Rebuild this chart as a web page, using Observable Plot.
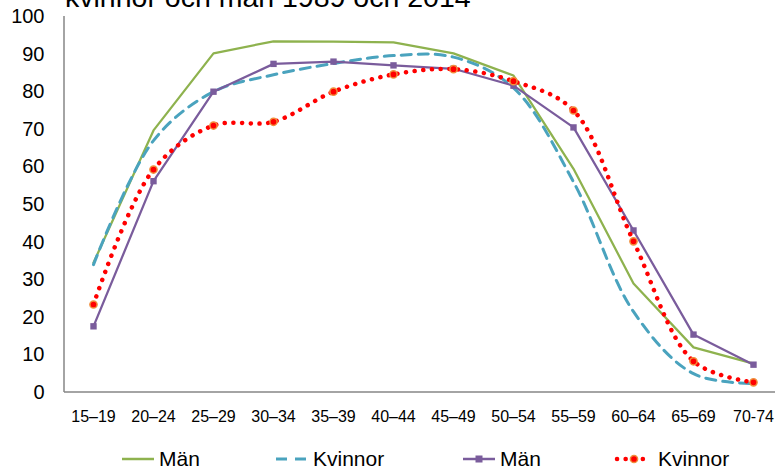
<!DOCTYPE html>
<html>
<head>
<meta charset="utf-8">
<script src="https://cdn.jsdelivr.net/npm/d3@7"></script>
<script src="https://cdn.jsdelivr.net/npm/@observablehq/plot@0.6"></script>
<style>
  html, body { margin: 0; padding: 0; background: #fff; overflow: hidden; }
  #wrap { position: relative; width: 775px; height: 469px; font-family: "Liberation Sans", Arial, sans-serif; }
  #title { position: absolute; left: 65px; top: -17px; font-size: 28.5px; line-height: 28.5px; color: #000; white-space: nowrap; z-index: 2; }
  #chart { position: absolute; left: 0; top: 0; }
  .leg { position: absolute; top: 446px; height: 26px; display: flex; align-items: center; font-size: 21px; color: #000; }
  .leg svg { margin-right: 3px; }
</style>
</head>
<body>
<div id="wrap">
  <div id="chart"></div>
  <div id="title">kvinnor och män 1989 och 2014</div>
  <div id="legend"></div>
</div>
<script>
const categories = ["15–19","20–24","25–29","30–34","35–39","40–44","45–49","50–54","55–59","60–64","65–69","70-74"];
const man1989 =     [34.5, 69.7, 90.2, 93.4, 93.3, 93.1, 90.2, 84.3, 59.5, 29.0, 12.0, 7.7];
const kvinnor1989 = [34.0, 67.0, 80.0, 84.5, 87.5, 89.6, 89.2, 81.0, 56.0, 21.5, 5.0, 2.4];
const man2014 =     [17.6, 56.2, 80.0, 87.4, 88.0, 87.0, 86.1, 81.6, 70.5, 43.1, 15.4, 7.4];
const kvinnor2014 = [23.4, 59.3, 71.0, 72.0, 80.0, 84.6, 86.0, 82.8, 75.0, 40.2, 8.3, 2.7];
const yTicks = [0,10,20,30,40,50,60,70,80,90,100];
const seriesNames = ["Män", "Kvinnor", "Män", "Kvinnor"];

const toRows = (vals) => categories.map((c, i) => ({cat: c, v: vals[i]}));
const r1 = toRows(man1989), r2 = toRows(kvinnor1989), r3 = toRows(man2014), r4 = toRows(kvinnor2014);

const green = "#8EB24E", teal = "#4AA3BE", purple = "#7A5C9C", red = "#FF0000", orange = "#F0903C";

const plot = Plot.plot({
  width: 775,
  height: 440,
  marginTop: 16,
  marginBottom: 48,
  marginLeft: 64,
  marginRight: 0,
  style: {fontFamily: "'Liberation Sans', Arial, sans-serif", background: "white", overflow: "visible"},
  x: {type: "point", domain: categories, range: [93, 753], padding: 0, label: null},
  y: {domain: [0, 100], label: null},
  marks: [
    Plot.ruleY(yTicks.filter(d => d > 0), {stroke: "#9a9a9a", strokeWidth: 1, x1: 64, x2: 775}),
    Plot.axisY({ticks: yTicks, tickSize: 0, tickPadding: 20, fontSize: 20, label: null, fill: "#000"}),
    Plot.axisX({tickSize: 0, tickPadding: 18, fontSize: 16, label: null, fill: "#000"}),
    Plot.line(r1, {x: "cat", y: "v", stroke: green, strokeWidth: 2.25}),
    Plot.line(r2, {x: "cat", y: "v", stroke: teal, strokeWidth: 3, strokeDasharray: "10 7", curve: "catmull-rom"}),
    Plot.line(r3, {x: "cat", y: "v", stroke: purple, strokeWidth: 2.25}),
    Plot.dot(r3, {x: "cat", y: "v", symbol: "square", r: 3.6, fill: purple, stroke: "none"}),
    Plot.line(r4, {x: "cat", y: "v", stroke: red, strokeWidth: 4.5, strokeDasharray: "0.1 8.6", strokeLinecap: "round", curve: "catmull-rom"}),
    Plot.dot(r4, {x: "cat", y: "v", r: 3.6, fill: red, stroke: orange, strokeWidth: 1.5})
  ]
});
// axis lines (frame left and bottom)
const svg = d3.select(plot);
const ys = plot.scale("y");
svg.append("line").attr("x1", 64).attr("x2", 64).attr("y1", ys.apply(100)).attr("y2", ys.apply(0))
  .attr("stroke", "#868686").attr("stroke-width", 1.5);
svg.append("line").attr("x1", 64).attr("x2", 775).attr("y1", ys.apply(0)).attr("y2", ys.apply(0))
  .attr("stroke", "#868686").attr("stroke-width", 1.5);
document.getElementById("chart").appendChild(plot);

// legend
const legendItems = [
  {left: 122, name: seriesNames[0], sw: `<line x1="0" y1="8" x2="32" y2="8" stroke="${green}" stroke-width="2.5"/>`},
  {left: 276, name: seriesNames[1], sw: `<line x1="0" y1="8" x2="33" y2="8" stroke="${teal}" stroke-width="3" stroke-dasharray="11 8"/>`},
  {left: 463, name: seriesNames[2], sw: `<line x1="0" y1="8" x2="32" y2="8" stroke="${purple}" stroke-width="2.5"/><rect x="12.5" y="4.5" width="7" height="7" fill="${purple}"/>`},
  {left: 615, name: seriesNames[3], sw: `<line x1="2" y1="8" x2="30" y2="8" stroke="${red}" stroke-width="4.5" stroke-dasharray="0.1 8.5" stroke-linecap="round"/><circle cx="19" cy="8" r="3.6" fill="${red}" stroke="${orange}" stroke-width="1.5"/>`}
];
const leg = document.getElementById("legend");
legendItems.forEach((it, i) => {
  const d = document.createElement("div");
  d.className = "leg";
  d.style.left = it.left + "px";
  d.innerHTML = `<svg width="34" height="16" style="overflow:visible">${it.sw}</svg><span style="${i===3 ? 'margin-left:6px' : ''}">${it.name}</span>`;
  leg.appendChild(d);
});
</script>
</body>
</html>
